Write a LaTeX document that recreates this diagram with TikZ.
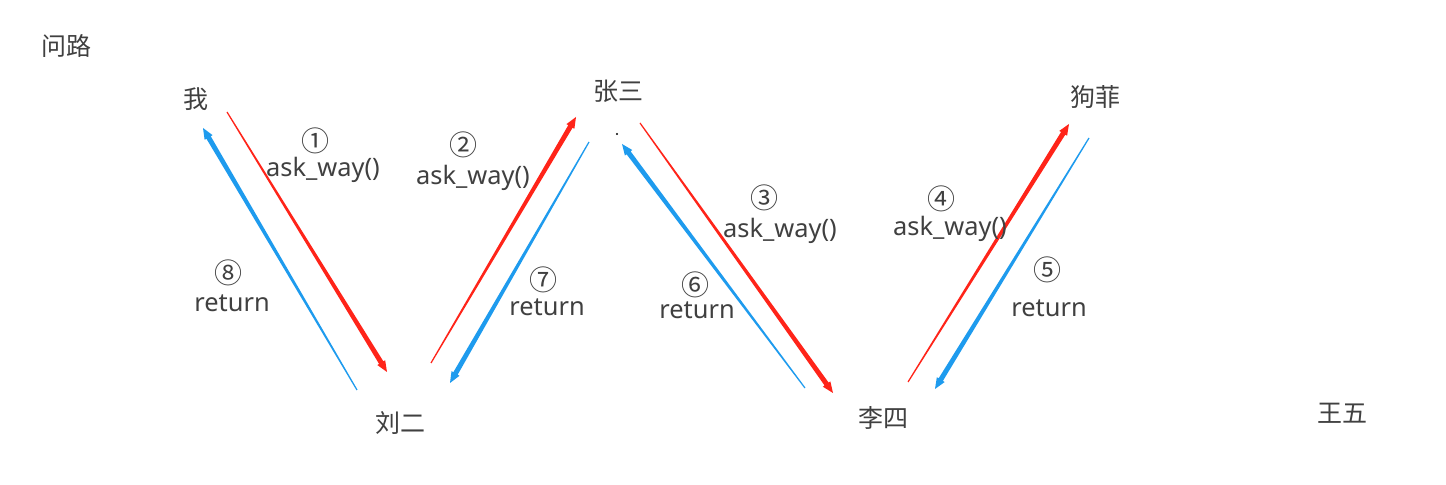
\documentclass[tikz,border=0pt]{standalone}
\usepackage{fontspec}
\setmainfont{Noto Sans}
\newfontfamily\cjk{Noto Sans CJK SC}
\usetikzlibrary{calc}
\definecolor{askred}{HTML}{FF2419}
\definecolor{retblue}{HTML}{1E9BEE}
\definecolor{txt}{HTML}{404040}
\tikzset{
  person/.style={text=txt,font=\cjk\fontsize{12.5}{14}\selectfont,inner sep=0pt},
  num/.style={text=txt,font=\cjk\fontsize{14}{16}\selectfont,inner sep=0pt},
  call/.style={text=txt,font=\fontsize{12.7}{14}\selectfont,inner sep=0pt}
}
% tapered arrow: thin at the start, thick with a head at the end
\newcommand\taper[3]{%
  \path (#2) coordinate (tb) ($(#2)!5.5pt!(#1)$) coordinate (hb);
  \fill[#3] ($(#1)!0.3pt!90:(#2)$) -- ($(hb)!1.25pt!-90:(#1)$) -- ($(hb)!2.3pt!-90:(#1)$)
    -- (#2) -- ($(hb)!2.3pt!90:(#1)$) -- ($(hb)!1.25pt!90:(#1)$) -- ($(#1)!0.3pt!-90:(#2)$) -- cycle;
}
\begin{document}
\begin{tikzpicture}[x=0.5pt,y=-0.5pt]
\useasboundingbox[fill=white] (0,0) rectangle (1446,485);

\node[person] (title) at (66,46) {问路};
\node[person] (wo) at (196,99) {我};
\node[person] (liuer) at (400,423) {刘二};
\node[person] (zhangsan) at (618,91) {张三};
\node[person] (lisi) at (883,418) {李四};
\node[person] (goufei) at (1095,97) {狗菲};
\node[person] (wangwu) at (1342,413) {王五};
\fill (617,134) circle (0.6pt);

% arrow ends
\coordinate (a1) at (227,112);  \coordinate (b1) at (387,372);
\coordinate (a2) at (431,363);  \coordinate (b2) at (576,117);
\coordinate (a3) at (640,123);  \coordinate (b3) at (833,393);
\coordinate (a4) at (908,382);  \coordinate (b4) at (1069,124);
\coordinate (a5) at (1089,138); \coordinate (b5) at (935,389);
\coordinate (a6) at (805,388);  \coordinate (b6) at (622,144);
\coordinate (a7) at (589,142);  \coordinate (b7) at (450,383);
\coordinate (a8) at (357,390);  \coordinate (b8) at (203,128);

\foreach \s/\e/\c in {a1/b1/askred,a2/b2/askred,a3/b3/askred,a4/b4/askred,
                      a5/b5/retblue,a6/b6/retblue,a7/b7/retblue,a8/b8/retblue}
    \taper{\s}{\e}{\c};

\node[num] (n1) at (315,141) {①};
\node[call] (c1) at (323,170) {ask\_way()};
\node[num] (n2) at (463,145) {②};
\node[call] (c2) at (473,178) {ask\_way()};
\node[num] (n3) at (764,198) {③};
\node[call] (c3) at (780,231) {ask\_way()};
\node[num] (n4) at (941,199) {④};
\node[call] (c4) at (950,229) {ask\_way()};
\node[num] (n5) at (1047,270) {⑤};
\node[call] (c5) at (1049,308) {return};
\node[num] (n6) at (695,285) {⑥};
\node[call] (c6) at (697,310) {return};
\node[num] (n7) at (543,280) {⑦};
\node[call] (c7) at (547,307) {return};
\node[num] (n8) at (228,273) {⑧};
\node[call] (c8) at (232,303) {return};

\end{tikzpicture}
\end{document}
